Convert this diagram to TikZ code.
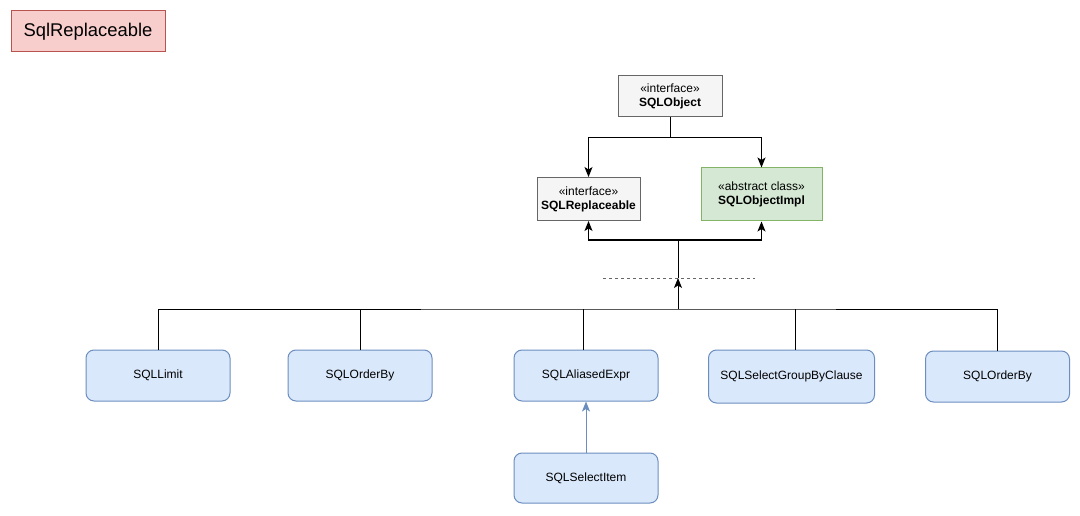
\documentclass[tikz,border=0pt]{standalone}
\usepackage{fontspec}
\setmainfont{Liberation Sans}
\usetikzlibrary{arrows.meta}
\definecolor{pinkfill}{HTML}{F8CECC}
\definecolor{pinkline}{HTML}{B85450}
\definecolor{greyfill}{HTML}{F5F5F5}
\definecolor{greyline}{HTML}{666666}
\definecolor{greenfill}{HTML}{D5E8D4}
\definecolor{greenline}{HTML}{82B366}
\definecolor{bluefill}{HTML}{DAE8FC}
\definecolor{blueline}{HTML}{6C8EBF}
\begin{document}
\begin{tikzpicture}[x=1pt,y=-1pt,line width=1pt,
  iface/.style={draw=greyline,fill=greyfill,align=center,inner sep=0pt,font=\fontsize{12}{14}\selectfont},
  cls/.style={draw=blueline,fill=bluefill,rounded corners=8pt,minimum width=144pt,minimum height=51pt,inner sep=0pt,font=\fontsize{12}{14}\selectfont},
  arr/.style={-{Stealth[length=10pt,width=8pt,inset=2.5pt]}}]
\useasboundingbox (0,0) rectangle (1080,516);
\node[draw=pinkline,fill=pinkfill,minimum width=154pt,minimum height=41pt,inner sep=0pt,font=\fontsize{18.4}{20}\selectfont] (title) at (88,31.5) {SqlReplaceable};
\node[iface,minimum width=104pt,minimum height=41pt] (obj) at (670,96.5) {«interface»\\\textbf{SQLObject}};
\node[iface,minimum width=103pt,minimum height=43pt] (repl) at (588.5,199) {«interface»\\\textbf{SQLReplaceable}};
\node[iface,draw=greenline,fill=greenfill,minimum width=121pt,minimum height=53pt] (impl) at (761.5,194.5) {«abstract class»\\\textbf{SQLObjectImpl}};
\node[cls] (limit) at (158,375.5) {SQLLimit};
\node[cls] (orderby) at (360,375.5) {SQLOrderBy};
\node[cls] (aliased) at (586,375.5) {SQLAliasedExpr};
\node[cls,minimum width=166pt,minimum height=53pt] (groupby) at (791.5,376.5) {SQLSelectGroupByClause};
\node[cls] (orderbyb) at (997.5,376.5) {SQLOrderBy};
\node[cls,minimum height=50pt] (item) at (586,478) {SQLSelectItem};
\coordinate (split) at (670,138);
\coordinate (join) at (678,240);
\coordinate (hub) at (678,278);
\coordinate (bus) at (678,309);
\draw (obj.south) -- (split);
\draw[arr] (split) -| (repl.north);
\draw[arr] (split) -| (impl.north);
\draw (hub) -- (join);
\draw[arr] (join) -| (repl.south);
\draw[arr] (join) -| (impl.south);
\draw[line width=0.8pt,dash pattern=on 3pt off 3pt,greyline] (603,278) -- (755,278);
\draw[arr] (bus) -- (hub);
\draw (limit.north) |- (bus) -| (orderbyb.north);
\draw (orderby.north) -- (orderby.north |- bus);
\draw ([xshift=-3pt]aliased.north) -- ([xshift=-3pt]aliased.north |- bus);
\draw ([xshift=3.5pt]groupby.north) -- ([xshift=3.5pt]groupby.north |- bus);
\draw[arr,blueline] (item) -- (aliased);
\end{tikzpicture}
\end{document}
